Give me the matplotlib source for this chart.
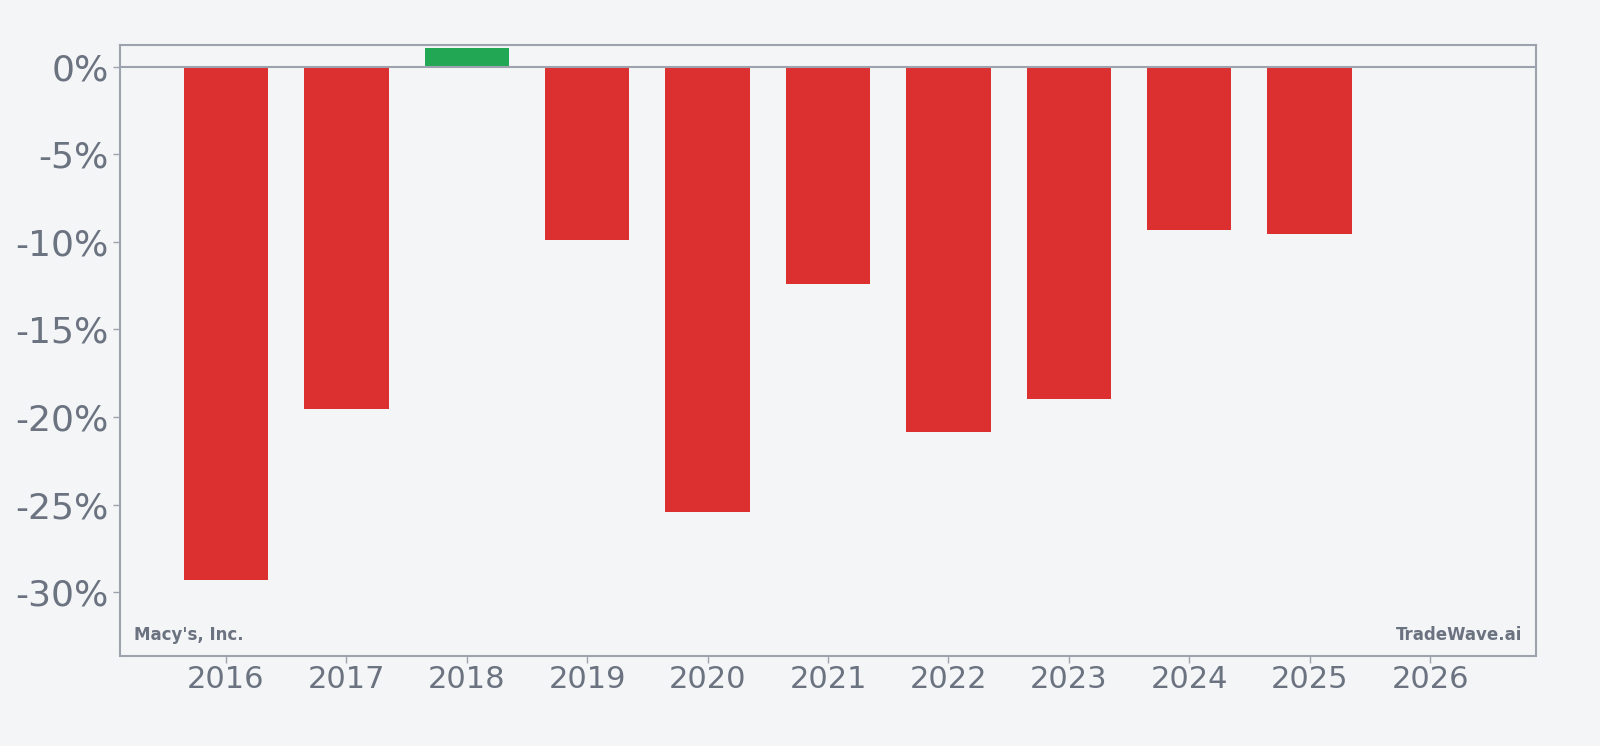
import matplotlib.pyplot as plt
from matplotlib.ticker import FuncFormatter

years = [2016, 2017, 2018, 2019, 2020, 2021, 2022, 2023, 2024, 2025]
returns = [-29.29, -19.55, 1.06, -9.89, -25.41, -12.39, -20.83, -18.97, -9.30, -9.54]
tick_years = list(range(2016, 2027))

bg = '#f4f5f7'
grey = '#6b7280'
spine = '#9ca3af'
colors = ['#22a755' if r >= 0 else '#dc3030' for r in returns]

fig = plt.figure(figsize=(16, 7.46), dpi=100, facecolor=bg)
ax = fig.add_axes([0.075, 0.1206, 0.885, 0.8191])
ax.set_facecolor(bg)

ax.bar(years, returns, width=0.7, color=colors, zorder=2)
ax.axhline(0, color=spine, linewidth=1.5, zorder=3)

ax.set_xlim(2015.12, 2026.88)
ax.set_ylim(-33.63, 1.23)
ax.set_xticks(tick_years)
ax.set_yticks([0, -5, -10, -15, -20, -25, -30])
ax.yaxis.set_major_formatter(FuncFormatter(lambda v, p: f'{v:.0f}%'))

for s in ax.spines.values():
    s.set_color(spine)
    s.set_linewidth(1.5)
ax.tick_params(colors=spine, labelcolor=grey, length=5, width=1)
ax.tick_params(axis='x', labelsize=22, pad=1.5)
ax.tick_params(axis='y', labelsize=26, pad=3)

ax.text(0.01, 0.02, "Macy's, Inc.", transform=ax.transAxes, fontsize=12,
        fontweight='bold', color=grey, ha='left', va='bottom')
ax.text(0.99, 0.02, "TradeWave.ai", transform=ax.transAxes, fontsize=12,
        fontweight='bold', color=grey, ha='right', va='bottom')

fig.savefig('out.png', dpi=100, facecolor=bg)
